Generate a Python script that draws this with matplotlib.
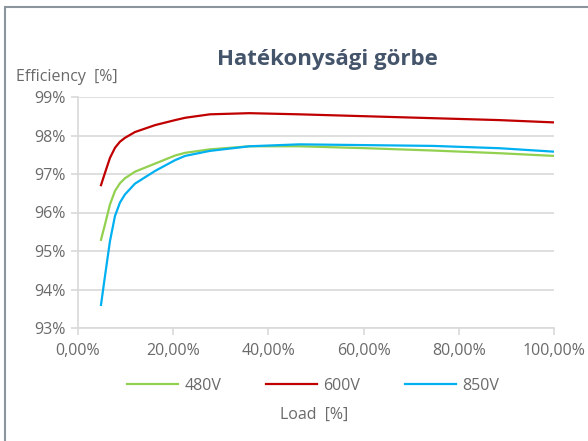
import matplotlib.pyplot as plt
from matplotlib.patches import Rectangle
from matplotlib.ticker import FuncFormatter

# Load [%] and efficiency [%]
load = [4.83, 5.67, 6.72, 7.77, 8.82, 9.87, 11.97, 16.2, 20.4, 22.5, 27.7, 36.0, 46.5, 60.5, 74.5, 88.5, 100.0]
eff_480 = [95.29, 95.69, 96.21, 96.56, 96.76, 96.89, 97.06, 97.27, 97.48, 97.55, 97.64, 97.72, 97.72, 97.67, 97.61, 97.54, 97.47]
eff_600 = [96.71, 97.03, 97.42, 97.68, 97.84, 97.94, 98.09, 98.27, 98.40, 98.46, 98.55, 98.58, 98.55, 98.50, 98.45, 98.40, 98.34]
eff_850 = [93.60, 94.35, 95.26, 95.91, 96.26, 96.47, 96.75, 97.08, 97.36, 97.47, 97.60, 97.72, 97.77, 97.75, 97.73, 97.67, 97.58]

series = [('480V', eff_480, '#92D050'),
          ('600V', eff_600, '#C00000'),
          ('850V', eff_850, '#00B0F0')]

x_ticks = [0, 20, 40, 60, 80, 100]
y_ticks = [93, 94, 95, 96, 97, 98, 99]

plt.rcParams['font.family'] = ['Open Sans', 'DejaVu Sans']
txt = '#6A6A6A'
grid = '#D9D9D9'
fs = 11.5

fig = plt.figure(figsize=(5.88, 4.41), dpi=100)
# chart frame (only top/left edges visible in the reference)
fig.patches.append(Rectangle((5/588, -0.1), 1.2, 1 - 7/441 + 0.1,
                             transform=fig.transFigure, fill=False,
                             ec='#8C959B', lw=1.5))

ax = fig.add_axes([78/588, 1 - 328/441, (554 - 78)/588, (328 - 97)/441])

for name, y, c in series:
    ax.plot(load, y, color=c, lw=1.6, label=name, zorder=3)

ax.set_xlim(0, 100)
ax.set_ylim(93, 99)
ax.set_xticks(x_ticks)
ax.set_yticks(y_ticks)
ax.xaxis.set_major_formatter(FuncFormatter(lambda v, p: f'{v:.2f}%'.replace('.', ',')))
ax.yaxis.set_major_formatter(FuncFormatter(lambda v, p: f'{v:.0f}%'))

ax.grid(axis='y', color=grid, lw=1.2, zorder=0)
for s in ['top', 'right']:
    ax.spines[s].set_visible(False)
for s in ['left', 'bottom']:
    ax.spines[s].set_color(grid)
    ax.spines[s].set_linewidth(1.2)
ax.tick_params(axis='both', colors=grid, labelcolor=txt, labelsize=fs, length=5, width=1.2)
ax.tick_params(axis='x', pad=6)
ax.tick_params(axis='y', pad=4)

fig.text(327/588, 1 - 60/441, 'Hatékonysági görbe', ha='center', va='center',
         fontsize=16, fontweight='bold', color='#44546A')
fig.text(16/588, 1 - 77/441, 'Efficiency  [%]', ha='left', va='center',
         fontsize=fs, color=txt)
fig.text(314/588, 1 - 415/441, 'Load  [%]', ha='center', va='center',
         fontsize=fs, color=txt)

fig.legend(loc='center', bbox_to_anchor=(313/588, 1 - 386/441), ncol=3,
           frameon=False, fontsize=fs, labelcolor=txt, handlelength=3.2,
           columnspacing=2.8, handletextpad=0.4)

fig.savefig('out.png', dpi=100)
